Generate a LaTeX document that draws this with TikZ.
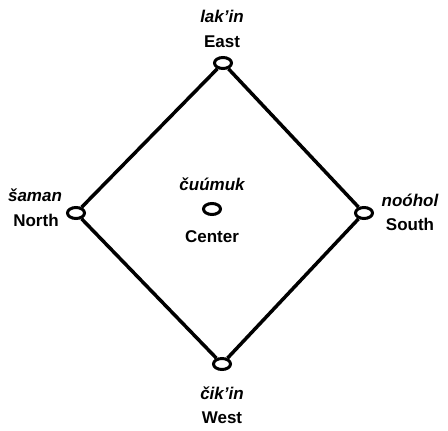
\documentclass[tikz,border=0pt]{standalone}
\usepackage{fontspec}
\setmainfont{Liberation Sans}
\usetikzlibrary{shapes.geometric}

\tikzset{
  post/.style={ellipse, draw, line width=3pt, minimum width=17pt, minimum height=11pt, inner sep=0pt},
  mayaName/.style={font=\fontsize{17}{19}\selectfont\bfseries\itshape},
  engName/.style={font=\fontsize{17}{19}\selectfont\bfseries},
}

\begin{document}
\begin{tikzpicture}[x=1pt, y=-1pt]
    \useasboundingbox (0,0) rectangle (448,431);
    % the four quarters and the middle
    \node[post] (east) at (223,63) {};
    \node[post] (north) at (76,213) {};
    \node[post] (south) at (364,213) {};
    \node[post] (west) at (222,364) {};
    \node[post] (center) at (212,209) {};
    \draw[line width=3.5pt] (east) -- (north) -- (west) -- (south) -- (east);
    % names
    \node[mayaName] (eastMaya) at (222,16) {lak'in};
    \node[engName] (eastEng) at (222,42) {East};
    \node[mayaName] (northMaya) at (35,195) {šaman};
    \node[engName] (northEng) at (36,220) {North};
    \node[mayaName] (southMaya) at (410,200) {noóhol};
    \node[engName] (southEng) at (410,224) {South};
    \node[mayaName] (westMaya) at (222,393) {čik'in};
    \node[engName] (westEng) at (222,418) {West};
    \node[mayaName] (centerMaya) at (212,184) {čuúmuk};
    \node[engName] (centerEng) at (212,237) {Center};
\end{tikzpicture}
\end{document}
